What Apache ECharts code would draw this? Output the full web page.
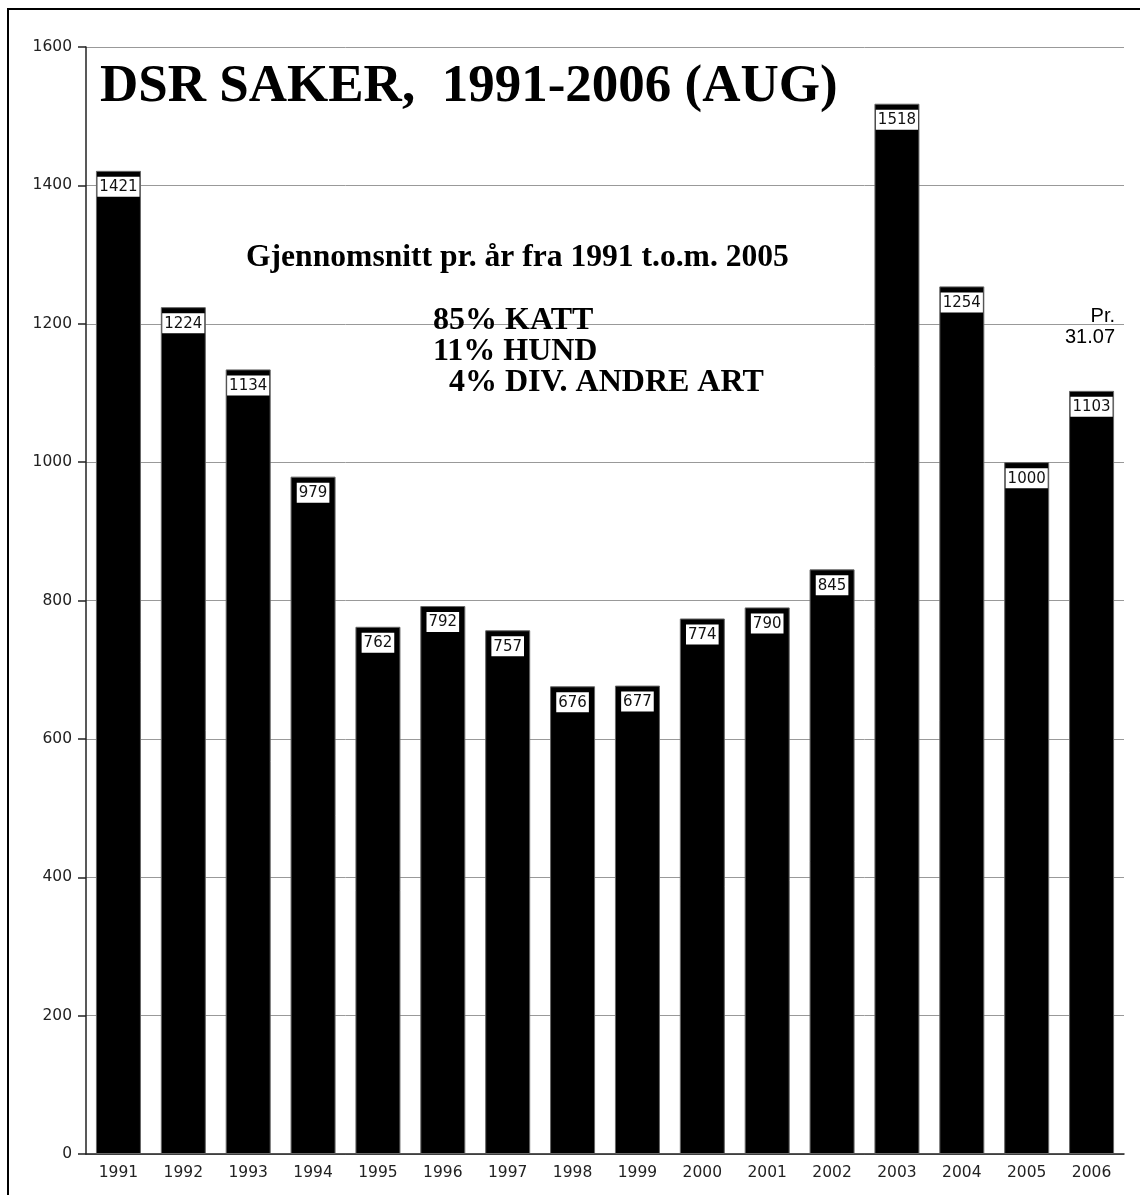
<!DOCTYPE html>
<html>
<head>
<meta charset="utf-8">
<script src="https://cdn.jsdelivr.net/npm/echarts@6/dist/echarts.min.js"></script>
<style>
  html, body { margin:0; padding:0; background:#fff; }
  #chart { width:1140px; height:1195px; }
</style>
</head>
<body>
<div id="chart"></div>
<script>
// data
const years = ['1991','1992','1993','1994','1995','1996','1997','1998',
               '1999','2000','2001','2002','2003','2004','2005','2006'];
const cases = [1421,1224,1134,979,762,792,757,676,677,774,790,845,1518,1254,1000,1103];

const yMin = 0, yMax = 1600, yStep = 200;

const titleText  = 'DSR SAKER,  1991-2006 (AUG)';
const avgText    = 'Gjennomsnitt pr. år fra 1991 t.o.m. 2005';
const shareLines = ['85% KATT', '11% HUND', '  4% DIV. ANDRE ART'];
const noteLines  = ['Pr.', '31.07'];

const serif = '"Liberation Serif", "Times New Roman", serif';
const sans  = '"Liberation Sans", Arial, sans-serif';
const axisFont = '"DejaVu Sans", Verdana, sans-serif';

const chart = echarts.init(document.getElementById('chart'));

chart.setOption({
  animation: false,
  backgroundColor: '#fff',
  grid: { left: 86, right: 16, top: 47, bottom: 41 },
  xAxis: {
    type: 'category',
    data: years,
    axisLine: { lineStyle: { color: '#222', width: 1.5 } },
    axisTick: { length: 6, lineStyle: { color: '#222', width: 1.5 } },
    axisLabel: { fontFamily: axisFont, fontSize: 15.5, color: '#222', margin: 11 }
  },
  yAxis: {
    type: 'value',
    min: yMin, max: yMax, interval: yStep,
    axisLine: { show: true, lineStyle: { color: '#222', width: 1.5 } },
    axisTick: { show: true, length: 8, lineStyle: { color: '#222', width: 1.5 } },
    axisLabel: { fontFamily: axisFont, fontSize: 15.5, color: '#222', margin: 14,
                 formatter: v => String(v) },
    splitLine: { lineStyle: { color: '#999', width: 1 } }
  },
  series: [{
    type: 'bar',
    data: cases,
    barWidth: 45,
    itemStyle: { color: '#000', borderColor: '#666', borderWidth: 1 },
    label: {
      show: true,
      position: 'insideTop',
      distance: 6,
      color: '#111',
      fontFamily: axisFont,
      fontSize: 15,
      backgroundColor: '#fff',
      padding: [3, 2, 2, 2]
    }
  }],
  graphic: [
    { type: 'rect', silent: true, z: 100,
      shape: { x: 8, y: 9, width: 1140, height: 1190 },
      style: { fill: 'none', stroke: '#000', lineWidth: 2 } },
    { type: 'text', left: 100, top: 61, z: 50,
      style: { text: titleText, font: 'bold 53px ' + serif, fill: '#000' } },
    { type: 'text', left: 246, top: 242, z: 50,
      style: { text: avgText, font: 'bold 31.6px ' + serif, fill: '#000' } },
    { type: 'text', left: 433, top: 305, z: 50,
      style: { text: shareLines.join('\n'), font: 'bold 32px ' + serif,
               lineHeight: 31, fill: '#000' } },
    { type: 'text', x: 1115, y: 316, z: 50,
      style: { text: noteLines[0], font: '20px ' + sans, align: 'right',
               verticalAlign: 'middle', fill: '#000' } },
    { type: 'text', x: 1115, y: 337, z: 50,
      style: { text: noteLines[1], font: '20px ' + sans, align: 'right',
               verticalAlign: 'middle', fill: '#000' } }
  ]
});
</script>
</body>
</html>
